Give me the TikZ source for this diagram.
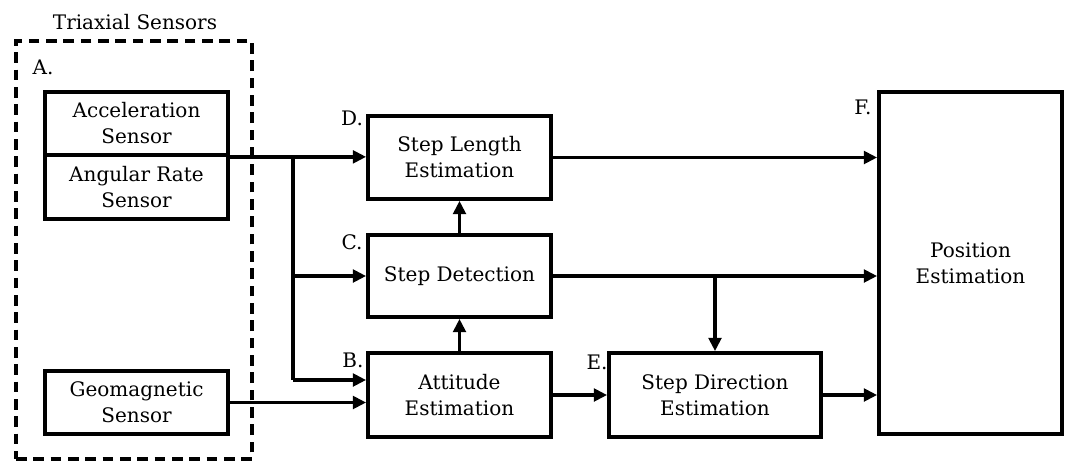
\documentclass[tikz,border=0pt]{standalone}
\usepackage{fontspec}
\setmainfont{DejaVu Serif}
\usetikzlibrary{arrows.meta,calc}
\tikzset{
  blk/.style={draw, line width=2.8pt, align=center, inner sep=0pt, font=\fontsize{15}{19.5}\selectfont},
  lbl/.style={inner sep=0pt, font=\fontsize{15}{19.5}\selectfont},
  conn/.style={line width=2.6pt, -{Triangle[length=10pt,width=9.5pt]}},
  plain/.style={line width=2.6pt},
}
\begin{document}
\begin{tikzpicture}[x=0.75pt,y=-0.75pt]
\useasboundingbox (0,0) rectangle (1067,461);
% dashed group
\node[draw, dash pattern=on 8pt off 5pt, line width=2.6pt, minimum width=236*0.75pt, minimum height=418*0.75pt, inner sep=0pt] (grp) at (134,250) {};
\node[lbl] (grplbl) at (135,22) {Triaxial Sensors};
\node[lbl] (la) at (43,67) {A.};
% sensors
\node[blk, minimum width=183*0.75pt, minimum height=63*0.75pt] (acc) at (136.5,123.5) {Acceleration\\Sensor};
\node[blk, minimum width=183*0.75pt, minimum height=64*0.75pt] (ang) at (136.5,187) {Angular Rate\\Sensor};
\node[blk, minimum width=183*0.75pt, minimum height=63*0.75pt] (geo) at (136.5,402.5) {Geomagnetic\\Sensor};
% processing blocks
\node[blk, minimum width=183*0.75pt, minimum height=83*0.75pt] (D) at (459.5,157.5) {Step Length\\Estimation};
\node[blk, minimum width=183*0.75pt, minimum height=82*0.75pt] (C) at (459.5,276) {Step Detection};
\node[blk, minimum width=183*0.75pt, minimum height=84*0.75pt] (B) at (459.5,395) {Attitude\\Estimation};
\node[blk, minimum width=212*0.75pt, minimum height=84*0.75pt] (E) at (715,395) {Step Direction\\Estimation};
\node[blk, minimum width=183*0.75pt, minimum height=342*0.75pt] (F) at (970.5,263) {Position\\Estimation};
% labels
\node[lbl] (ld) at (352,118) {D.};
\node[lbl] (lc) at (352,242) {C.};
\node[lbl] (lb) at (353,360) {B.};
\node[lbl] (le) at (597,362) {E.};
\node[lbl] (lf) at (863,107) {F.};
% connectors
\coordinate (j) at (293,155);
\draw[conn] (acc.south east) -- (acc.south east -| D.west);
\draw[plain] (j) -- (j |- 0,380);
\draw[conn] (j |- C.west) -- (C.west);
\draw[conn] (293,380) -- (B.west |- 0,380);
\draw[conn] (geo.east) -- (geo.east -| B.west);
\draw[conn] (B.north) -- (C.south);
\draw[conn] (C.north) -- (D.south);
\draw[conn] (B.east) -- (E.west);
\draw[conn] (D.east) -- (D.east -| F.west);
\draw[conn] (C.east) -- (C.east -| F.west);
\draw[conn] (E.north |- C.east) -- (E.north);
\draw[conn] (E.east) -- (E.east -| F.west);
\end{tikzpicture}
\end{document}
